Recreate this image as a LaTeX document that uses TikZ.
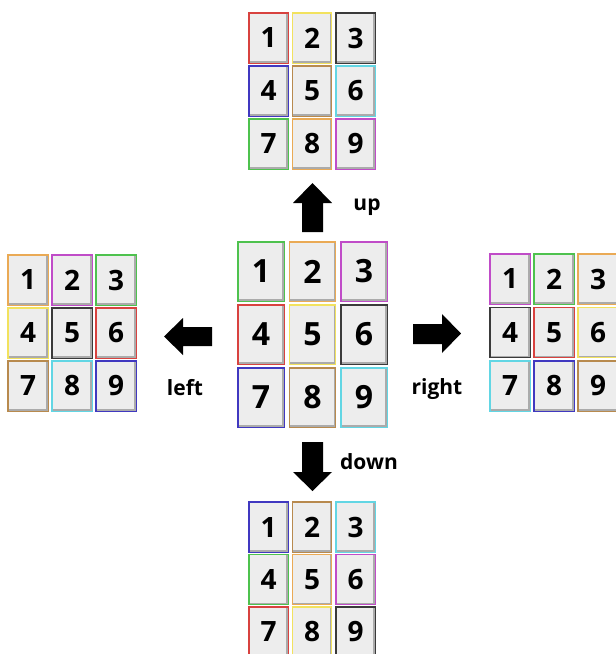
\documentclass[tikz,border=0pt]{standalone}
\usepackage{fontspec}
\setmainfont{Open Sans}
\definecolor{tred}{HTML}{D8423F}
\definecolor{tyel}{HTML}{F2E25E}
\definecolor{tblk}{HTML}{3A3A3A}
\definecolor{tblu}{HTML}{4038C0}
\definecolor{ttan}{HTML}{B88A4E}
\definecolor{tcya}{HTML}{62D6E4}
\definecolor{tgrn}{HTML}{4EC24E}
\definecolor{tora}{HTML}{EAAA55}
\definecolor{tmag}{HTML}{C04CC8}
\definecolor{tilefill}{HTML}{EDEDED}
\definecolor{tileshade}{HTML}{ABABAB}
\newcommand\gridfont{\fontsize{28}{28}\selectfont\bfseries}
% #1 prefix, #2 x0, #3 y0, #4 pitch x, #5 pitch y, #6 w, #7 h, #8 colours
\newcommand\drawgrid[8]{%
  \foreach \c [count=\i from 0] in {#8} {
    \pgfmathtruncatemacro\col{mod(\i,3)}
    \pgfmathtruncatemacro\row{div(\i,3)}
    \pgfmathtruncatemacro\num{\i+1}
    \node[tile, draw=\c, minimum width=#6pt, minimum height=#7pt]
      (#1\num) at ({#2+\col*#4+#6/2},{#3+\row*#5+#7/2}) {\num};
    \draw[tileshadow]
      ([xshift=1.6pt,yshift=1.8pt]#1\num.south west)
      -- ([xshift=-1.8pt,yshift=1.8pt]#1\num.south east)
      -- ([xshift=-1.8pt,yshift=-1.6pt]#1\num.north east);
  }%
}
\begin{document}
\begin{tikzpicture}[x=1pt,y=-1pt,
  tile/.style={rectangle, fill=tilefill, line width=1.3pt, inner sep=0pt,
    font=\gridfont, text=black},
  tileshadow/.style={tileshade, line width=1.4pt},
  lbl/.style={font=\fontsize{21}{21}\selectfont\bfseries, text=black},
  blockarrow/.style={fill=black}]
\useasboundingbox[fill=white] (0,0) rectangle (616,654);
% top (up)
\drawgrid{u}{249}{13}{43.5}{53}{39}{50}{tred,tyel,tblk,tblu,ttan,tcya,tgrn,tora,tmag}
% left
\drawgrid{l}{8}{255}{44}{53}{40}{50}{tora,tmag,tgrn,tyel,tblk,tred,ttan,tcya,tblu}
% right
\drawgrid{r}{490}{254}{44}{53.5}{40}{50}{tmag,tgrn,tora,tblk,tred,tyel,tcya,tblu,ttan}
% bottom (down)
\drawgrid{d}{249}{502}{43.5}{52.5}{39}{50}{tblu,ttan,tcya,tgrn,tora,tmag,tred,tyel,tblk}
% centre
\renewcommand\gridfont{\fontsize{32}{32}\selectfont\bfseries}
\drawgrid{c}{238}{242}{51.5}{63}{46}{59}{tgrn,tora,tmag,tred,tyel,tblk,tblu,ttan,tcya}
% block arrows
\fill[blockarrow] (302,232) -- (302,203) -- (293,203) -- (312.5,183) -- (332,203) -- (323,203) -- (323,232) -- cycle;
\fill[blockarrow] (302,442) -- (302,472) -- (293,472) -- (312.5,491) -- (332,472) -- (323,472) -- (323,442) -- cycle;
\fill[blockarrow] (212,327) -- (183,327) -- (183,318) -- (164,336.5) -- (183,355) -- (183,346) -- (212,346) -- cycle;
\fill[blockarrow] (413,324) -- (442,324) -- (442,314) -- (461,333.5) -- (442,353) -- (442,344) -- (413,344) -- cycle;
% labels
\node[lbl] (uplbl) at (367,207) {up};
\node[lbl] (leftlbl) at (185,388) {left};
\node[lbl] (rightlbl) at (437,389) {right};
\node[lbl] (downlbl) at (369,462) {down};
\end{tikzpicture}
\end{document}
